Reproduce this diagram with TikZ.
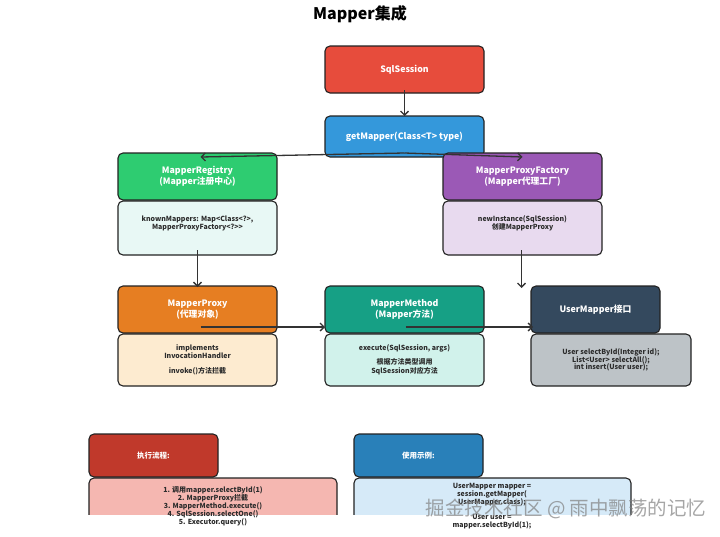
\documentclass[tikz,border=0pt]{standalone}
\usepackage{fontspec}
\setmainfont{Noto Sans CJK SC}
\usetikzlibrary{arrows.meta}
\definecolor{bordc}{HTML}{222222}
\definecolor{arrc}{HTML}{333333}
\definecolor{txtc}{HTML}{2C2C2C}
\definecolor{cRed}{HTML}{E74C3C}
\definecolor{cBlue}{HTML}{3498DB}
\definecolor{cGreen}{HTML}{2ECC71}
\definecolor{cPurple}{HTML}{9B59B6}
\definecolor{cOrange}{HTML}{E67E22}
\definecolor{cTeal}{HTML}{16A085}
\definecolor{cDark}{HTML}{34495E}
\definecolor{cDarkRed}{HTML}{C0392B}
\definecolor{cBlueTwo}{HTML}{2980B9}
\definecolor{bGreen}{HTML}{E8F8F5}
\definecolor{bPurple}{HTML}{E8DAEF}
\definecolor{bOrange}{HTML}{FDEBD0}
\definecolor{bTeal}{HTML}{D1F2EB}
\definecolor{bGray}{HTML}{BDC3C7}
\definecolor{bRed}{HTML}{F5B7B1}
\definecolor{bBlue}{HTML}{D6EAF8}
\tikzset{
  box/.style={draw=bordc, line width=1.1pt, rounded corners=5pt, anchor=north west,
    inner sep=0pt, outer sep=0pt, align=center},
  hdr/.style={box, text=white, font=\fontsize{8.8}{11}\selectfont\bfseries},
  bdy/.style={box, text=txtc, font=\fontsize{7}{8}\selectfont\bfseries},
  btxt/.style={text=txtc, font=\fontsize{7}{8}\selectfont\bfseries, align=center, inner sep=0pt},
  arr/.style={draw=arrc, line width=1.3pt, -{Straight Barb[length=4pt,width=8pt,line width=1.3pt]}},
}
\begin{document}
\begin{tikzpicture}[x=1pt,y=-1pt]
\useasboundingbox (0,0) rectangle (720,536);
\node[font=\fontsize{16}{18}\selectfont\bfseries, text=black] (title) at (360,14) {Mapper集成};

% top
\node[hdr, fill=cRed, minimum width=159pt, minimum height=47pt] (sql) at (325,46) {SqlSession};
\node[hdr, fill=cBlue, minimum width=159pt, minimum height=41pt] (gm) at (325,116) {getMapper(Class<T> type)};

% registry
\node[hdr, fill=cGreen, minimum width=159pt, minimum height=47pt] (reg) at (118,153) {MapperRegistry\\(Mapper注册中心)};
\node[bdy, fill=bGreen, minimum width=159pt, minimum height=54pt] (regb) at (118,201) {knownMappers: Map<Class<?>,\\MapperProxyFactory<?>{}>\\[2pt]};

% factory
\node[hdr, fill=cPurple, minimum width=159pt, minimum height=47pt] (fac) at (443,153) {MapperProxyFactory\\(Mapper代理工厂)};
\node[bdy, fill=bPurple, minimum width=159pt, minimum height=54pt] (facb) at (443,201) {newInstance(SqlSession)\\创建MapperProxy\\[2pt]};

% proxy
\node[hdr, fill=cOrange, minimum width=159pt, minimum height=47pt] (prx) at (118,286) {MapperProxy\\(代理对象)};
\node[bdy, fill=bOrange, minimum width=159pt, minimum height=52pt] (prxb) at (118,334) {implements\\InvocationHandler\\[7pt]invoke()方法拦截};

% method
\node[hdr, fill=cTeal, minimum width=159pt, minimum height=47pt] (mm) at (325,286) {MapperMethod\\(Mapper方法)};
\node[bdy, fill=bTeal, minimum width=159pt, minimum height=52pt, font=\fontsize{7}{9}\selectfont\bfseries] (mmb) at (325,334) {execute(SqlSession, args)\\[5pt]根据方法类型调用\\SqlSession对应方法};

% user mapper
\node[hdr, fill=cDark, minimum width=129pt, minimum height=47pt] (um) at (531,286) {UserMapper接口};
\node[bdy, fill=bGray, minimum width=160pt, minimum height=52pt, font=\fontsize{7}{7.6}\selectfont\bfseries] (umb) at (531,334) {User selectById(Integer id);\\List<User> selectAll();\\int insert(User user);};

% bottom
\node[hdr, fill=cDarkRed, minimum width=129pt, minimum height=43pt, font=\fontsize{7.5}{9}\selectfont\bfseries] (flow) at (89,434) {执行流程:};
\node[hdr, fill=cBlueTwo, minimum width=129pt, minimum height=43pt, font=\fontsize{7.5}{9}\selectfont\bfseries] (ex) at (354,434) {使用示例:};
\begin{scope}
\clip (0,0) rectangle (720,514);
\node[bdy, fill=bRed, minimum width=248pt, minimum height=60pt] (flowb) at (89,478) {};
\node[bdy, fill=bBlue, minimum width=277pt, minimum height=60pt] (exb) at (354,478) {};
\end{scope}
\node[btxt, anchor=north] (flowt) at (213,486) {1. 调用mapper.selectById(1)\\2. MapperProxy拦截\\3. MapperMethod.execute()\\4. SqlSession.selectOne()\\5. Executor.query()};
\node[btxt, anchor=north] (ext) at (492,483) {UserMapper mapper =\\session.getMapper(\\UserMapper.class);\\[7pt]User user =\\mapper.selectById(1);};

% arrows
\draw[arr] ([yshift=3pt]sql.south) -- (gm.north);
\draw[arr] ([yshift=4pt]gm.south) -- ([xshift=3pt,yshift=-4pt]reg.north);
\draw[arr] ([yshift=4pt]gm.south) -- ([yshift=-4pt]fac.north);
\draw[arr] ([xshift=0pt,yshift=5pt]regb.south) -- ([yshift=-1pt]prx.north);
\draw[arr] ([xshift=-1pt,yshift=5pt]facb.south) -- ([xshift=-1pt,yshift=-2pt]facb.south |- um.north);
\draw[arr] ([xshift=3pt,yshift=6pt]prx.south) -- ([yshift=6pt]mm.south west);
\draw[arr] ([xshift=1pt,yshift=6pt]mm.south) -- ([xshift=2pt,yshift=6pt]um.south west);

% watermark
\node[text=gray, opacity=0.7, font=\fontsize{19.5}{20}\selectfont] (wm) at (566,509) {掘金技术社区 @ 雨中飘荡的记忆};
\end{tikzpicture}
\end{document}
